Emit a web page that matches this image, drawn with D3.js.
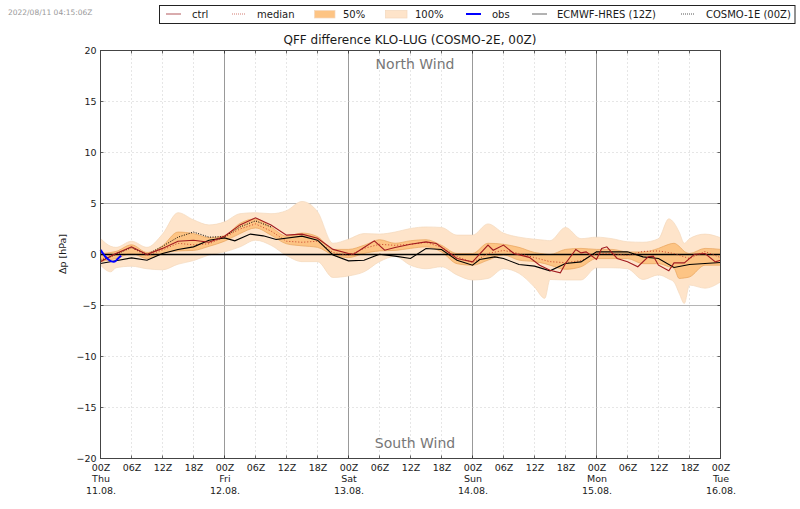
<!DOCTYPE html>
<html>
<head>
<meta charset="utf-8">
<script src="https://cdn.jsdelivr.net/npm/d3@7"></script>
<style>
  html, body { margin: 0; padding: 0; background: #fff; }
  svg { display: block; }
  text { font-family: "DejaVu Sans", sans-serif; fill: #1a1a1a; }
</style>
</head>
<body>
<div id="chart"></div>
<script>
// values, hours since 11.08. 00Z / hPa
let bandHours = [0,2,3,6,9,12,15,18,21,24,27,30,33,36,39,42,45,48,51,54,57,60,63,66,69,72,75,78,81,84,86,87,90,93,96,99,102,105,108,110,111,112,113,114,117,120];
let upper100 = [1.57,.8,.7,1.3,.7,2,4.1,3.4,2.9,3.2,4,4.1,4,4.3,5.2,4.2,1.1,1.5,2.05,2,2.2,2.55,2.7,2.65,1.9,1.9,3,2.1,1.7,1.5,1.4,1.35,2.65,1.55,1.7,1.55,1.25,1.2,1.55,3.5,3.1,2.2,1.1,1.55,2,1.65];
let lower100 = [-1.05,-1.7,-1.3,-1.15,-1.4,-1.5,-.95,-.6,-.05,.25,.75,1.4,.9,-.1,-.7,-.7,-2.25,-2.1,-1.7,-.7,-.2,-1.05,-1.4,-1.2,-2,-2.5,-2.35,-1.4,-1.85,-3.2,-4.3,-2.45,-2.5,-2.5,-1.3,-1.3,-1.4,-2.45,-2,-2.4,-2.7,-3.8,-4.8,-3,-3.3,-2.7];
let upper50 = [.1,.2,.3,.95,.2,.85,2.2,2.05,1.65,1.85,3.05,3.5,2.7,1.8,2.1,1.75,.5,.5,.9,1.45,1.1,1.35,1.45,.9,.1,.1,1.1,1,.7,.2,.05,0,.5,.6,.5,.5,.25,.25,.6,1,1.1,.8,.3,.1,.6,.5];
let lower50 = [-.7,-.5,-.4,.1,-.4,.1,.35,.4,.8,1.3,2.05,2.6,1.9,1.05,.85,.7,-.05,-.3,.1,.35,.4,.6,.75,.25,-.9,-1.05,-.55,-.05,-.55,-.7,-.9,-1.05,-1.45,-1.2,-.4,-.4,-.4,-.9,-.9,-1.2,-1.35,-2.35,-2.3,-2.2,-1.05,-1.05];

let medianHours = d3.range(0, 121, 3);
let medianValues = [-.5,.1,.65,-.1,.45,1.1,.95,1.05,1.7,2.5,3,2.3,1.3,1.2,1.3,.2,-.1,.6,1,.9,1,1.2,.7,-.2,-.8,.1,.4,.1,-.3,-.7,-.8,-.6,.1,.1,-.1,.3,.35,.1,-.4,.3,-.3];

let ctrlHours = [0,3,6,9,12,15,18,21,24,27,30,33,36,39,42,45,48,49,51,53,55,57,60,63,65,69,72,75,76,78,80,83,85,87,89,90,92,93,94,96,97,98,100,102,104,106,107,108,110,111,113,115,117,119,120];
let ctrlValues = [-.7,.1,.75,0,.6,1.3,1.4,1.2,1.8,2.9,3.6,2.9,1.9,2,1.6,.5,.1,.03,.69,1.34,.42,.69,1.01,1.24,1.08,-.39,-.72,.92,.42,.92,.1,-.28,-1.05,-1.54,-1.8,-.88,.49,.16,.26,-.49,.59,.75,-.39,-.72,-1.2,-.23,-.16,-1.05,-1.6,-.82,-.82,.03,.1,-.72,-.56];

let ecmwfHours = [0,3,6,9,12,15,18,21,24,26,29,31.5,34,39,42,45,48,51,54,57,60,63,66,69,72,73.4,76.3,78,81,84,87,90,93,96,99,102,105,108,111,114,117,120];
let ecmwfValues = [-.88,-.62,-.33,-.56,.1,.49,.75,1.4,1.63,1.34,2,1.83,1.47,1.8,1.4,-.05,-.62,-.56,.03,-.16,-.39,.59,.49,-.56,-1.05,-.49,-.23,-.39,-.98,-1.14,-1.6,-.88,-.72,.26,.26,.26,-.23,-.39,-1.27,-.98,-.88,-.78];

let cosmo1Hours = d3.range(0, 34, 3);
let cosmo1Values = [-.6,0,.7,0,.8,1.7,2.2,1.7,1.75,2.7,3.3,2.7];

let obsHours = [0,1,2,2.6,3.4,4];
let obsValues = [.45,-.25,-.65,-.72,-.4,-.13];

let tickHours = d3.range(0, 121, 6);
let tickHourLabels = ['00Z','06Z','12Z','18Z'];
let dayNames = ['Thu','Fri','Sat','Sun','Mon','Tue'];
let dayDates = ['11.08.','12.08.','13.08.','14.08.','15.08.','16.08.'];
let yTicks = d3.range(-20, 21, 5);

let config = { width: 800, height: 509, left: 100.5, right: 720.5, top: 50.5, bottom: 458.5 };
let colors = { ctrl: '#a11a1f', median: '#c8402a', band50: '#fdc484', band100: '#fee4ca', edge50: '#e8a45c', edge100: '#f3d8bc', obs: '#0000ff' };

let svg = d3.select('#chart').append('svg')
    .attr('width', config.width)
    .attr('height', config.height);

let x = d3.scaleLinear().domain([0, 120]).range([config.left, config.right]);
let y = d3.scaleLinear().domain([-20, 20]).range([config.bottom, config.top]);

// grid
svg.append('g').selectAll('line').data(tickHours).enter().append('line')
    .attr('x1', d => x(d)).attr('x2', d => x(d))
    .attr('y1', config.top).attr('y2', config.bottom)
    .attr('stroke', d => d % 24 === 0 ? '#999' : '#ccc')
    .attr('stroke-width', 1)
    .attr('stroke-dasharray', d => d % 24 === 0 ? null : '1,3');
svg.append('g').selectAll('line').data(yTicks).enter().append('line')
    .attr('x1', config.left).attr('x2', config.right)
    .attr('y1', d => y(d)).attr('y2', d => y(d))
    .attr('stroke', d => Math.abs(d) === 5 ? '#b5b5b5' : '#ccc')
    .attr('stroke-width', 1)
    .attr('stroke-dasharray', d => Math.abs(d) === 5 ? null : '1,3');

// bands
function band(upper, lower) {
  return d3.area()
    .curve(d3.curveMonotoneX)
    .x((d, i) => x(bandHours[i]))
    .y0((d, i) => y(lower[i]))
    .y1((d, i) => y(upper[i]))(bandHours);
}
svg.append('path').attr('d', band(upper100, lower100))
    .attr('fill', colors.band100).attr('stroke', colors.edge100).attr('stroke-width', 0.7);
svg.append('path').attr('d', band(upper50, lower50))
    .attr('fill', colors.band50).attr('stroke', colors.edge50).attr('stroke-width', 0.7);

// zero line
svg.append('line')
    .attr('x1', x(0)).attr('x2', x(120))
    .attr('y1', y(0)).attr('y2', y(0))
    .attr('stroke', '#000').attr('stroke-width', 1.3);

function drawLine(hours, values, color, width, dash, curve) {
  let line = d3.line().curve(curve || d3.curveLinear).x((d, i) => x(hours[i])).y((d, i) => y(values[i]));
  svg.append('path')
      .attr('d', line(values))
      .attr('fill', 'none')
      .attr('stroke', color)
      .attr('stroke-width', width)
      .attr('stroke-dasharray', dash);
}
drawLine(medianHours, medianValues, colors.median, 1, '1,2');
drawLine(cosmo1Hours, cosmo1Values, '#000', 1, '1,1.5');
drawLine(ecmwfHours, ecmwfValues, '#000', 1.1, null);
drawLine(ctrlHours, ctrlValues, colors.ctrl, 1.1, null);
drawLine(obsHours, obsValues, colors.obs, 2, null, d3.curveMonotoneX);

// axes
let xAxis = d3.axisBottom(x).tickValues(tickHours).tickSize(0).tickPadding(4)
    .tickFormat(d => tickHourLabels[(d / 6) % 4]);
let xg = svg.append('g').attr('transform', 'translate(0,' + config.bottom + ')').call(xAxis);
xg.select('.domain').remove();
xg.selectAll('text').style('font-size', '9.5px').attr('dy', '0.85em');
xg.selectAll('.tick').filter(d => d % 24 === 0).each(function(d) {
  let tick = d3.select(this);
  let i = d / 24;
  tick.append('text').attr('y', 23.5).attr('text-anchor', 'middle').style('font-size', '9.5px').text(dayNames[i]);
  tick.append('text').attr('y', 35.5).attr('text-anchor', 'middle').style('font-size', '9.5px').text(dayDates[i]);
});

let yAxis = d3.axisLeft(y).tickValues(yTicks).tickSize(0).tickPadding(4)
    .tickFormat(d => String(d).replace('-', '\u2212'));
let yg = svg.append('g').attr('transform', 'translate(' + config.left + ',0)').call(yAxis);
yg.select('.domain').remove();
yg.selectAll('text').style('font-size', '9.5px');

// inward tick marks on all four sides
let tickG = svg.append('g').attr('stroke', '#000').attr('stroke-width', 0.6);
tickHours.forEach(h => {
  tickG.append('line').attr('x1', x(h)).attr('x2', x(h)).attr('y1', config.top).attr('y2', config.top + 3);
  tickG.append('line').attr('x1', x(h)).attr('x2', x(h)).attr('y1', config.bottom).attr('y2', config.bottom - 3);
});
yTicks.forEach(v => {
  tickG.append('line').attr('x1', config.left).attr('x2', config.left + 3).attr('y1', y(v)).attr('y2', y(v));
  tickG.append('line').attr('x1', config.right).attr('x2', config.right - 3).attr('y1', y(v)).attr('y2', y(v));
});

svg.append('rect')
    .attr('x', config.left).attr('y', config.top)
    .attr('width', config.right - config.left).attr('height', config.bottom - config.top)
    .attr('fill', 'none').attr('stroke', '#444').attr('stroke-width', 1);

// labels
svg.append('text').attr('x', 410).attr('y', 43.5).attr('text-anchor', 'middle').style('font-size', '12px').text('QFF difference KLO-LUG (COSMO-2E, 00Z)');
svg.append('text').attr('x', 415).attr('y', 69).attr('text-anchor', 'middle').style('font-size', '14px').style('fill', '#777').text('North Wind');
svg.append('text').attr('x', 415).attr('y', 448).attr('text-anchor', 'middle').style('font-size', '14px').style('fill', '#777').text('South Wind');
svg.append('text').attr('x', 8).attr('y', 15).style('font-size', '7.5px').style('fill', '#999').text('2022/08/11 04:15:06Z');
svg.append('text').attr('transform', 'translate(66,254) rotate(-90)').attr('text-anchor', 'middle').style('font-size', '9.5px').text('\u0394p [hPa]');

// legend
svg.append('rect').attr('x', 159.5).attr('y', 5.5).attr('width', 635.5).attr('height', 18)
    .attr('fill', '#fff').attr('stroke', '#222').attr('stroke-width', 1);
let legendItems = [
  { label: 'ctrl', kind: 'line', color: '#b3595c', x0: 166, x1: 181, tx: 192 },
  { label: 'median', kind: 'line', color: '#d27a70', dash: '1,1', x0: 232, x1: 245, tx: 257 },
  { label: '50%', kind: 'box', color: colors.band50, edge: colors.edge100, x0: 314.5, x1: 335, tx: 343 },
  { label: '100%', kind: 'box', color: colors.band100, edge: colors.edge100, x0: 385.5, x1: 407, tx: 415 },
  { label: 'obs', kind: 'line', color: colors.obs, width: 2, x0: 466, x1: 481, tx: 492 },
  { label: 'ECMWF-HRES (12Z)', kind: 'line', color: '#666', x0: 532, x1: 547, tx: 557 },
  { label: 'COSMO-1E (00Z)', kind: 'line', color: '#555', dash: '1,1', x0: 681, x1: 694, tx: 706 }
];
legendItems.forEach(d => {
  if (d.kind === 'box') {
    svg.append('rect').attr('x', d.x0).attr('y', 10.5).attr('width', d.x1 - d.x0).attr('height', 7.5)
        .attr('fill', d.color).attr('stroke', d.edge).attr('stroke-width', 0.7);
  } else {
    svg.append('line').attr('x1', d.x0).attr('x2', d.x1).attr('y1', 14).attr('y2', 14)
        .attr('stroke', d.color).attr('stroke-width', d.width || 1).attr('stroke-dasharray', d.dash || null);
  }
  svg.append('text').attr('x', d.tx).attr('y', 17.5).style('font-size', '10px').text(d.label);
});
</script>
</body>
</html>
